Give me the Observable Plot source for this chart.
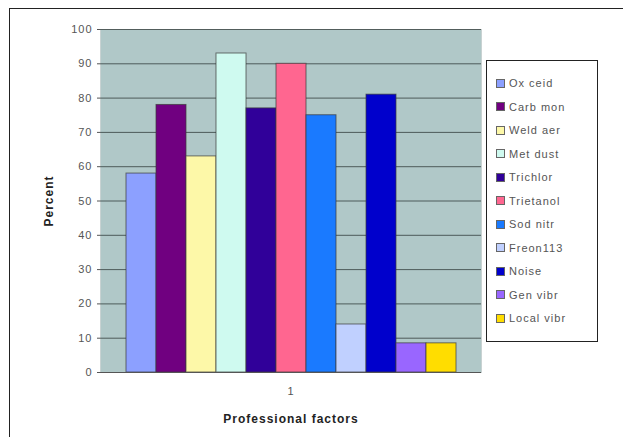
<!DOCTYPE html>
<html>
<head>
<meta charset="utf-8">
<script src="https://cdn.jsdelivr.net/npm/d3@7"></script>
<script src="https://cdn.jsdelivr.net/npm/@observablehq/plot@0.6"></script>
<style>
  html, body { margin: 0; padding: 0; background: #fff; }
  #wrap { position: relative; width: 623px; height: 437px; overflow: hidden; font-family: "Liberation Sans", Arial, sans-serif; }
  #outer { position: absolute; left: 9px; top: 8px; width: 700px; height: 500px; border-left: 1.5px solid #222; border-top: 1.5px solid #222; box-sizing: border-box; }
  #chart { position: absolute; left: 0; top: 0; }
  #legend { position: absolute; left: 486px; top: 60px; width: 112px; height: 282px; border: 1.5px solid #222; box-sizing: border-box; background: #fff; }
  .item { position: absolute; left: 9px; height: 14px; display: flex; align-items: center; font-size: 11px; letter-spacing: 1px; color: #555; white-space: nowrap; }
  .sw { width: 7px; height: 7px; border: 1px solid #666; margin-right: 4px; }
</style>
</head>
<body>
<div id="wrap">
  <div id="outer"></div>
  <div id="chart"></div>
  <div id="legend"></div>
</div>
<script>
const series = ["Ox ceid", "Carb mon", "Weld aer", "Met dust", "Trichlor", "Trietanol", "Sod nitr", "Freon113", "Noise", "Gen vibr", "Local vibr"];
const values = [58, 78, 63, 93, 77, 90, 75, 14, 81, 8.5, 8.5];
const colors = ["#8ca0ff", "#700080", "#fdf8a8", "#cffaf0", "#300099", "#ff6690", "#1a7aff", "#c0d0ff", "#0000cc", "#9966ff", "#ffdd00"];
const categories = ["1"];
const yTicks = [0, 10, 20, 30, 40, 50, 60, 70, 80, 90, 100];

const data = series.map((s, i) => ({group: categories[0], name: s, value: values[i]}));

const chart = Plot.plot({
  width: 623,
  height: 437,
  marginLeft: 100,
  marginRight: 142,
  marginTop: 29,
  marginBottom: 65,
  style: {fontFamily: "Liberation Sans, Arial, sans-serif", fontSize: "11px", letterSpacing: "1px", color: "#555", background: "transparent"},
  fx: {domain: categories, padding: 0, label: "Professional factors", labelAnchor: "center", labelOffset: 50, labelArrow: "none", tickSize: 0, tickPadding: 15},
  x: {domain: series, padding: 0, insetLeft: 24, insetRight: 23, axis: null},
  y: {domain: [0, 100], ticks: yTicks, tickSize: 3, tickPadding: 5, label: "Percent", labelAnchor: "center", labelOffset: 56, labelArrow: "none"},
  color: {domain: series, range: colors},
  marks: [
    Plot.frame({fill: "#b0c8c8", stroke: "#c8d2d2"}),
    Plot.gridY(yTicks, {stroke: "#34403f", strokeOpacity: 0.8}),
    Plot.barY(data, {fx: "group", x: "name", y: "value", fill: "name", stroke: "#3a3a3a", strokeOpacity: 0.7, strokeWidth: 1}),
    Plot.ruleX([0], {stroke: "#555", strokeWidth: 1.2, frameAnchor: "left"}),
    Plot.ruleY([0], {stroke: "#555", strokeWidth: 1.2})
  ]
});
document.getElementById("chart").appendChild(chart);

// axis titles: bold, darker, no arrows
chart.querySelectorAll("[aria-label$='axis label'] text").forEach(el => {
  el.textContent = el.textContent.replace(/[\u2191\u2192\u2193\u2190]/g, "").trim();
  el.setAttribute("font-weight", "bold");
  el.setAttribute("font-size", "12px");
  el.setAttribute("fill", "#222");
});

const legend = document.getElementById("legend");
series.forEach((s, i) => {
  const it = document.createElement("div");
  it.className = "item";
  it.style.top = (15 + i * 23.5) + "px";
  const sw = document.createElement("div");
  sw.className = "sw";
  sw.style.background = colors[i];
  const tx = document.createElement("span");
  tx.textContent = s;
  it.appendChild(sw);
  it.appendChild(tx);
  legend.appendChild(it);
});
</script>
</body>
</html>
